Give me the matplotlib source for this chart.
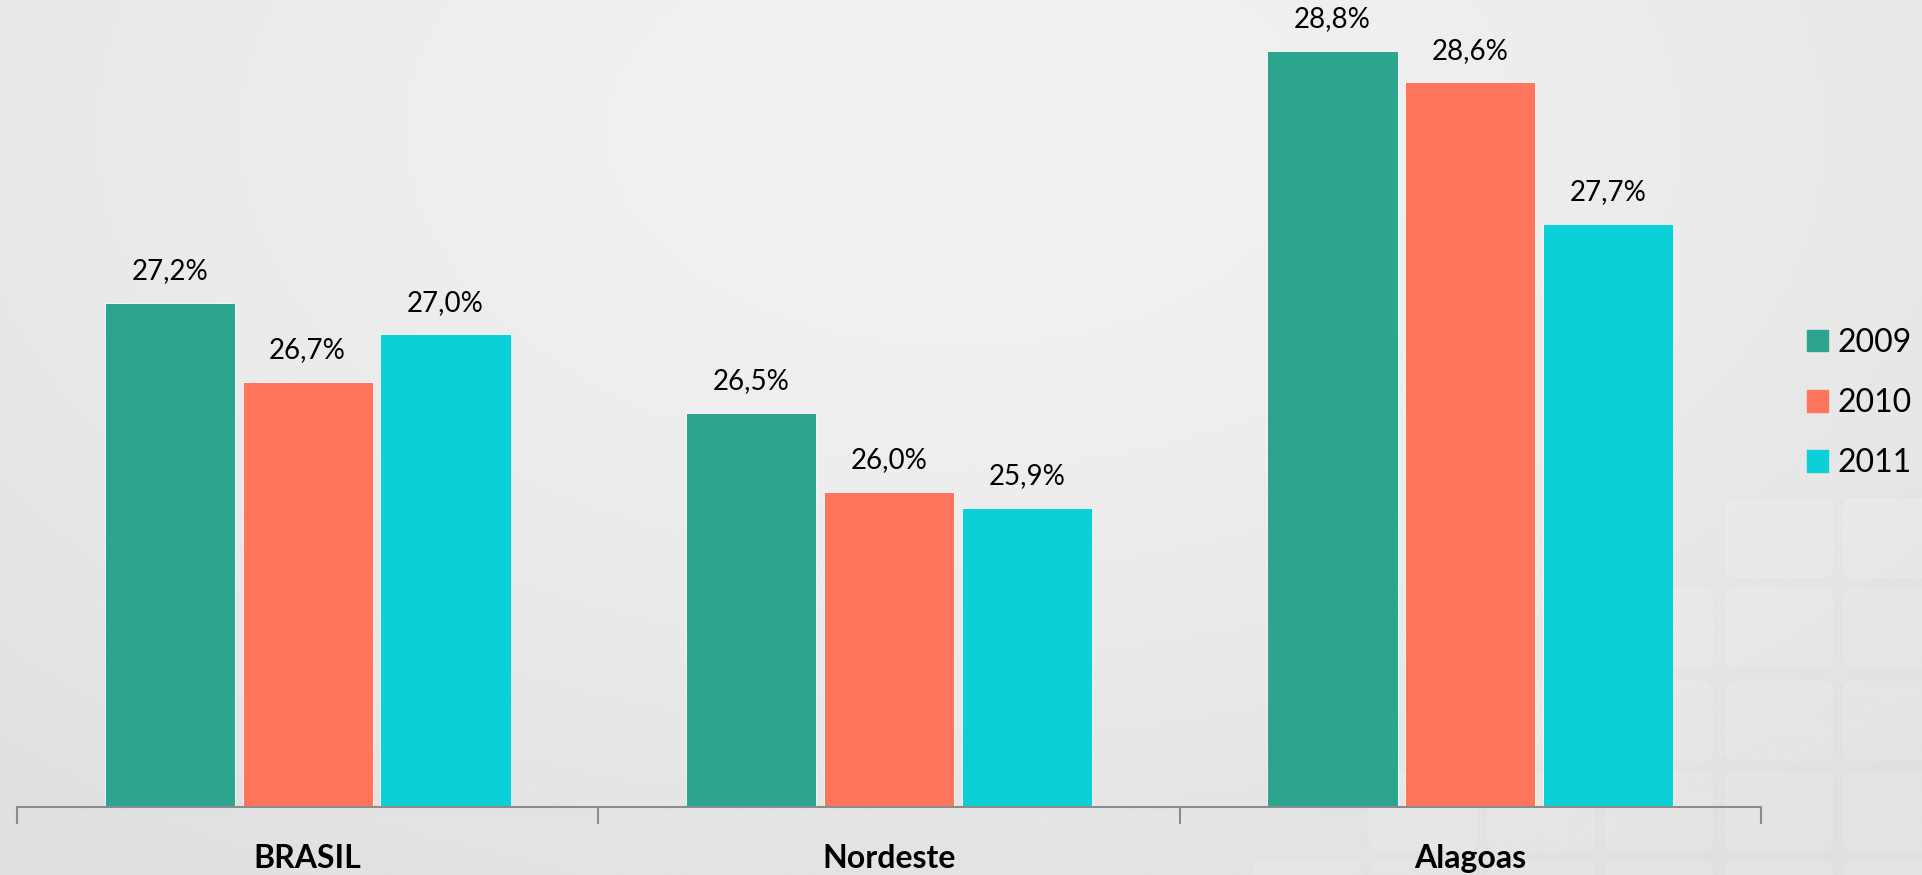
import numpy as np
import matplotlib.pyplot as plt
from matplotlib.patches import FancyBboxPatch

plt.rcParams['font.family'] = ['Lato', 'DejaVu Sans']

categories = ['BRASIL', 'Nordeste', 'Alagoas']
years = ['2009', '2010', '2011']
v2009 = [27.2, 26.5, 28.8]
v2010 = [26.7, 26.0, 28.6]
v2011 = [27.0, 25.9, 27.7]
series = [v2009, v2010, v2011]
colors = ['#2ca48e', '#fe755c', '#0cd0d8']

W, H = 1922, 875
fig = plt.figure(figsize=(W / 100, H / 100), dpi=100)

# background: soft grey radial gradient, in pixel coords
bg = fig.add_axes([0, 0, 1, 1])
yy, xx = np.mgrid[0:1:300j, 0:1:600j]
r = np.sqrt(((xx - 0.5) / 0.75) ** 2 + ((yy - 0.15) / 1.0) ** 2)
shade = 0.945 - 0.07 * np.clip(r, 0, 1) ** 1.6
bg.imshow(shade, cmap='gray', vmin=0, vmax=1, extent=[0, W, H, 0], aspect='auto')

# faint tiles in the lower right corner
tile_x = [1252, 1368, 1486, 1604, 1724, 1842]
tile_y = [497, 587, 680, 770, 860]
for ri, ty in enumerate(tile_y):
    for ci, tx in enumerate(tile_x):
        if ci < 4 - ri:
            continue
        bg.add_patch(FancyBboxPatch((tx, ty), 110, 82,
                                    boxstyle='round,pad=0,rounding_size=10',
                                    fc='white', ec='#d2d2d2', lw=1.0, alpha=0.12))
bg.set_xlim(0, W)
bg.set_ylim(H, 0)
bg.axis('off')

ax = fig.add_axes([17 / W, 68 / H, (1761 - 17) / W, 807 / H])
ax.patch.set_alpha(0)

x = np.arange(len(categories))
width = 0.224
offsets = [-0.237, 0, 0.237]
for vals, off, col, yr in zip(series, offsets, colors, years):
    bars = ax.bar(x + off, [v - 24 for v in vals], width, bottom=24, color=col,
                  edgecolor='white', linewidth=0.6, label=yr)
    for b, v in zip(bars, vals):
        ax.text(b.get_x() + b.get_width() / 2, v + 0.12, ('%.1f%%' % v).replace('.', ','),
                ha='center', va='bottom', fontsize=20, color='black')

ax.set_xlim(-0.5, 2.5)
ax.set_ylim(24, 24 + 807 / 157.5)
for s in ['top', 'right', 'left']:
    ax.spines[s].set_visible(False)
ax.spines['bottom'].set_color('#8c8c8c')
ax.spines['bottom'].set_linewidth(1.5)
ax.set_yticks([])
ax.set_xticks([-0.5, 0.5, 1.5, 2.5])
ax.set_xticklabels([])
ax.tick_params(axis='x', length=12, width=1.5, color='#8c8c8c')
for i, c in enumerate(categories):
    ax.text(i, -0.064, c, transform=ax.get_xaxis_transform(), ha='center', va='center',
            fontsize=23, fontweight='bold', color='black')

handles = [plt.Rectangle((0, 0), 1, 1, color=c) for c in colors]
fig.legend(handles, years, loc='center left', bbox_to_anchor=(1807 / W, 1 - 403 / H),
           frameon=False, fontsize=23, handlelength=0.66, handleheight=0.66,
           handletextpad=0.3, labelspacing=0.95, borderaxespad=0, borderpad=0)

fig.savefig('out.png', dpi=100)
